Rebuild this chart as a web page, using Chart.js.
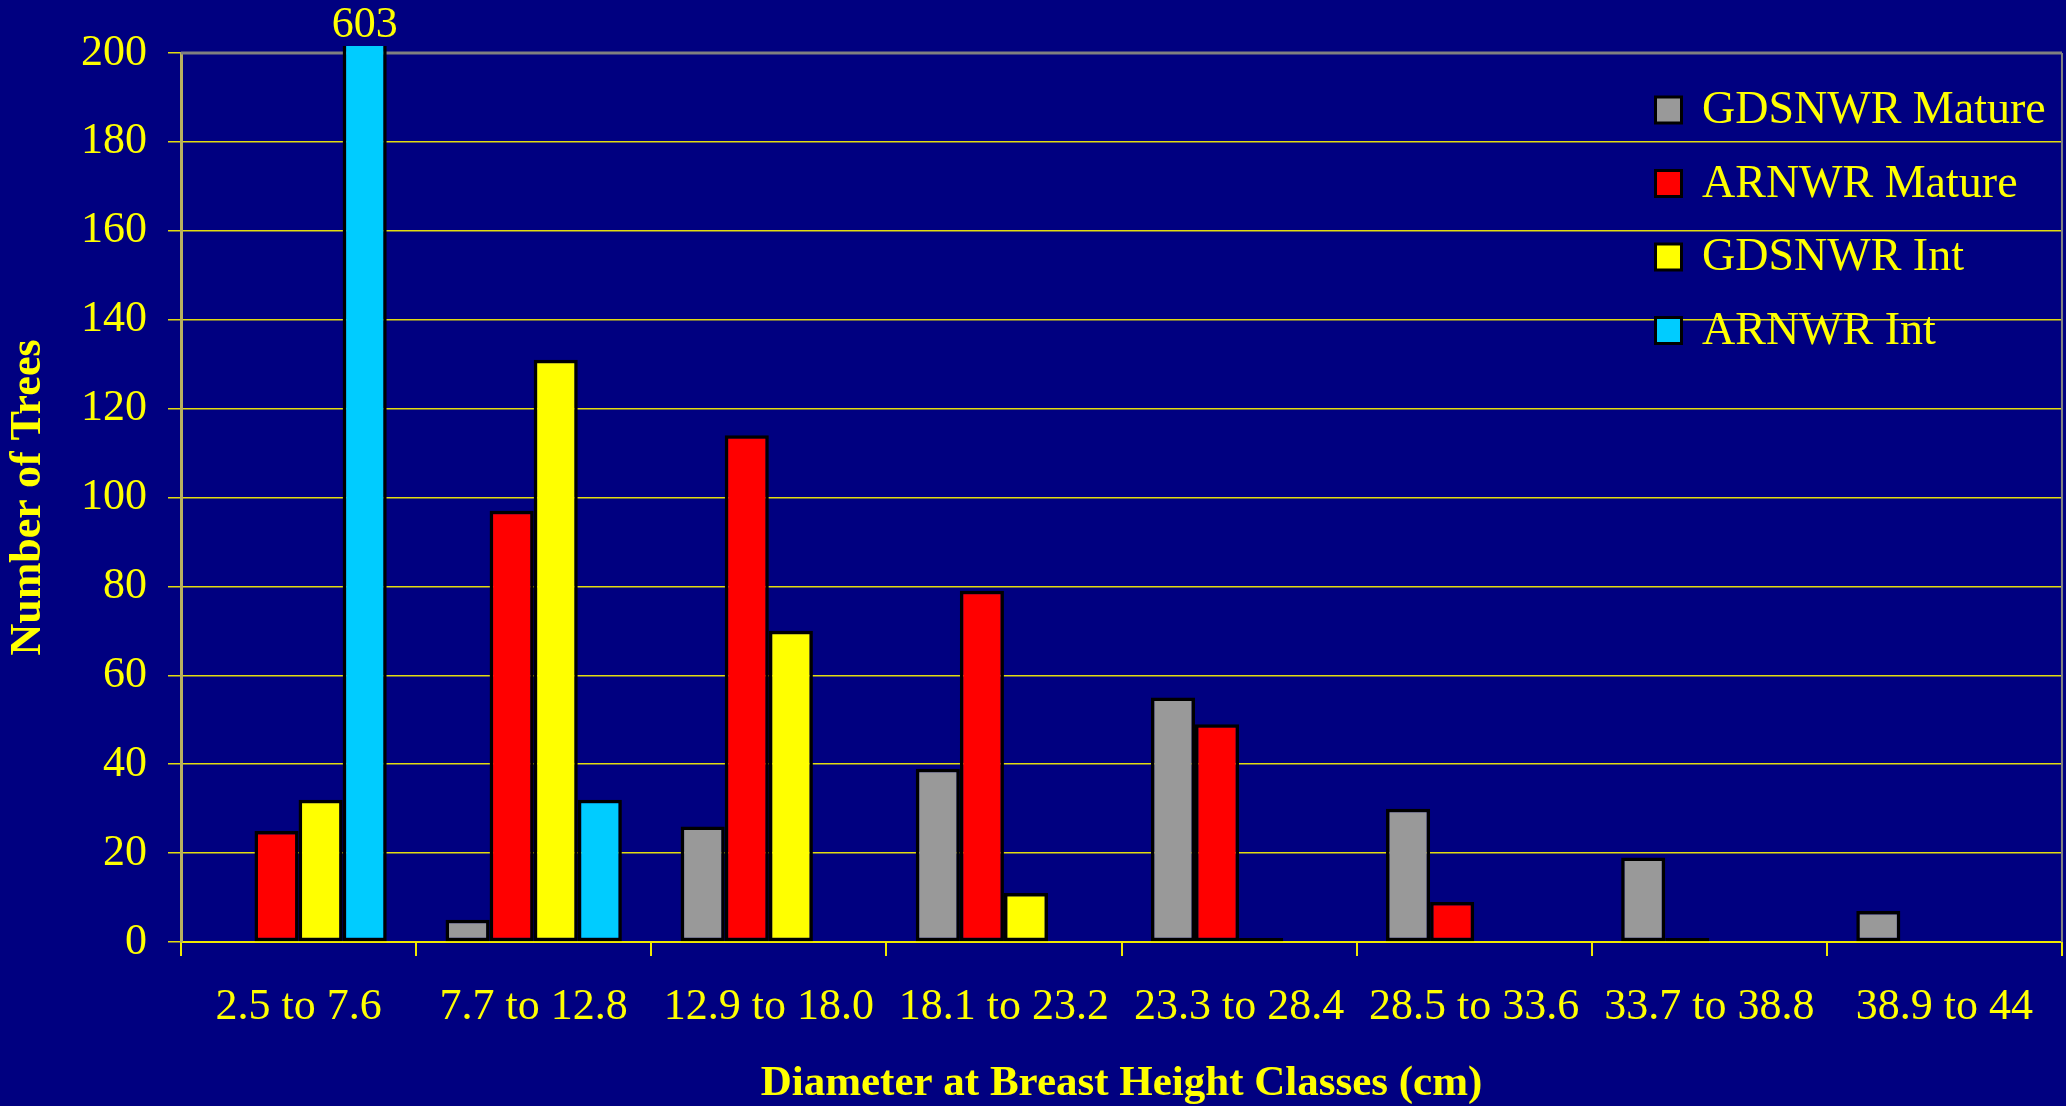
<!DOCTYPE html>
<html>
<head>
<meta charset="utf-8">
<title>Number of Trees by DBH Class</title>
<script src="https://cdn.jsdelivr.net/npm/chart.js@4.4.1/dist/chart.umd.min.js"></script>
<style>
    html, body { margin: 0; padding: 0; background: #000080; }
    canvas { display: block; }
</style>
</head>
<body>
<canvas id="dbh" width="2066" height="1106"></canvas>
<script>
/* Diameter class counts — mature and intermediate stands, two refuges */

const classes = ["2.5 to 7.6", "7.7 to 12.8", "12.9 to 18.0", "18.1 to 23.2",
                 "23.3 to 28.4", "28.5 to 33.6", "33.7 to 38.8", "38.9 to 44"];

// null = no bar drawn, 0 = flat bar on the axis
const gdsnwrMature = [null, 5, 26, 39, 55, 30, 19, 7];
const arnwrMature  = [25, 97, 114, 79, 49, 9, 0, null];
const gdsnwrInt    = [32, 131, 70, 11, 0, null, null, null];
const arnwrInt     = [603, 32, null, null, null, null, null, null];

const yTicks = [0, 20, 40, 60, 80, 100, 120, 140, 160, 180, 200];

const SERIF = '"Liberation Serif", "Times New Roman", serif';
const YELLOW = '#ffff00';
const GRID = '#e2dc10';

// Bars that run past the top of the axis get their real value printed above
const overflowLabels = {
    id: 'overflowLabels',
    afterDatasetsDraw(chart) {
        let ctx = chart.ctx;
        let yScale = chart.scales.y;
        ctx.save();
        ctx.fillStyle = YELLOW;
        ctx.font = '44px ' + SERIF;
        ctx.textAlign = 'center';
        ctx.textBaseline = 'alphabetic';
        chart.data.datasets.forEach((ds, i) => {
            chart.getDatasetMeta(i).data.forEach((bar, j) => {
                let v = ds.data[j];
                if (v != null && v > yScale.max) {
                    ctx.fillText(String(v), bar.x, chart.chartArea.top - 16);
                }
            });
        });
        ctx.restore();
    }
};

// Grey frame along the top and right of the plot, under the bars
const plotFrame = {
    id: 'plotFrame',
    beforeDatasetsDraw(chart) {
        let a = chart.chartArea;
        let ctx = chart.ctx;
        ctx.save();
        ctx.strokeStyle = '#808080';
        ctx.lineWidth = 3;
        ctx.beginPath();
        ctx.moveTo(a.left, a.top);
        ctx.lineTo(a.right, a.top);
        ctx.stroke();
        ctx.lineWidth = 2;
        ctx.beginPath();
        ctx.moveTo(a.right, a.top);
        ctx.lineTo(a.right, a.bottom);
        ctx.stroke();
        ctx.restore();
    }
};

// Boxed legend sitting inside the plot, top right
const boxLegend = {
    id: 'boxLegend',
    afterDraw(chart) {
        let ctx = chart.ctx;
        ctx.save();
        ctx.font = '46px ' + SERIF;
        ctx.textAlign = 'left';
        ctx.textBaseline = 'middle';
        chart.data.datasets.forEach((ds, i) => {
            let cy = 110 + i * 73.5;
            ctx.fillStyle = '#000000';
            ctx.fillRect(1654, cy - 14.5, 29, 29);
            ctx.fillStyle = ds.backgroundColor;
            ctx.fillRect(1657, cy - 11.5, 23, 23);
            ctx.fillStyle = YELLOW;
            ctx.fillText(ds.label, 1702, cy + 1);
        });
        ctx.restore();
    }
};

function series(label, data, color) {
    return {
        label: label,
        data: data,
        backgroundColor: color,
        borderColor: '#000000',
        borderWidth: 3.5,
        borderSkipped: false,
        minBarLength: 4,
        categoryPercentage: 0.75,
        barPercentage: 1.0
    };
}

let datasets = [
    series('GDSNWR Mature', gdsnwrMature, '#999999'),
    series('ARNWR Mature', arnwrMature, '#ff0000'),
    series('GDSNWR Int', gdsnwrInt, '#ffff00'),
    series('ARNWR Int', arnwrInt, '#00ccff')
];
// the 603 bar pokes a few pixels above the frame before being cut
datasets[3].clip = { left: 10, top: 7, right: 10, bottom: 10 };

new Chart(document.getElementById('dbh'), {
    type: 'bar',
    data: { labels: classes, datasets: datasets },
    options: {
        responsive: false,
        animation: false,
        events: [],
        layout: { padding: { top: 53, right: 4, left: 0, bottom: 0 } },
        plugins: {
            legend: { display: false },
            tooltip: { enabled: false }
        },
        scales: {
            x: {
                afterFit(scale) { scale.height = 164; },
                grid: {
                    drawOnChartArea: false,
                    drawTicks: true,
                    tickLength: 14,
                    color: '#f0e800',
                    lineWidth: 2
                },
                border: { display: true, color: '#f0e800', width: 2 },
                ticks: {
                    color: YELLOW,
                    font: { family: SERIF, size: 44 },
                    padding: 25,
                    maxRotation: 0,
                    autoSkip: false
                },
                title: {
                    display: true,
                    text: 'Diameter at Breast Height Classes (cm)',
                    color: YELLOW,
                    font: { family: SERIF, size: 43, weight: 'bold', lineHeight: 1 },
                    padding: { top: 0, bottom: 1 }
                }
            },
            y: {
                min: 0,
                max: 200,
                afterFit(scale) { scale.width = 181; },
                afterBuildTicks(scale) {
                    scale.ticks = yTicks.map(v => ({ value: v }));
                },
                grid: {
                    color: GRID,
                    lineWidth: 1.5,
                    tickLength: 13,
                    tickColor: GRID
                },
                border: { display: true, color: '#b8b060', width: 3 },
                ticks: {
                    color: YELLOW,
                    font: { family: SERIF, size: 44 },
                    padding: 21
                },
                title: {
                    display: true,
                    text: 'Number of Trees',
                    color: YELLOW,
                    font: { family: SERIF, size: 44, weight: 'bold', lineHeight: 1 },
                    padding: { top: 7, bottom: 0 }
                }
            }
        }
    },
    plugins: [plotFrame, overflowLabels, boxLegend]
});
</script>
</body>
</html>
